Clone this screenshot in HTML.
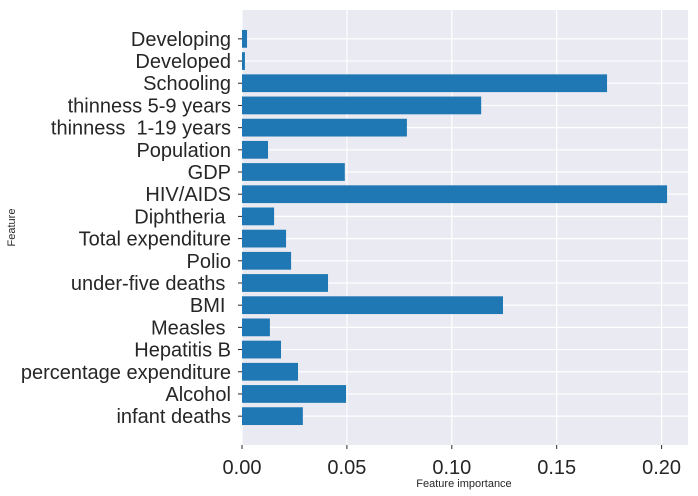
<!DOCTYPE html>
<html><head><meta charset="utf-8"><style>
body{margin:0;background:#fff;}
svg{display:block;font-family:"Liberation Sans",Arial,sans-serif;}
</style></head><body>
<svg id="chart" width="698" height="496"></svg>
<script>
const categories=["infant deaths","Alcohol","percentage expenditure","Hepatitis B","Measles ","BMI ","under-five deaths ","Polio","Total expenditure","Diphtheria ","HIV/AIDS","GDP","Population","thinness  1-19 years","thinness 5-9 years","Schooling","Developed","Developing"];
const importances=[0.029,0.0496,0.0267,0.0186,0.0133,0.1244,0.041,0.0234,0.021,0.0153,0.2026,0.049,0.0124,0.0786,0.114,0.174,0.0014,0.0024];
const xTicks=[0,0.05,0.1,0.15,0.2];
const xTickLabels=["0.00","0.05","0.10","0.15","0.20"];

const NS="http://www.w3.org/2000/svg";
const svg=document.getElementById('chart');
const L=242,R=688,T=10,B=445;
const x=v=>L+v*2098;
const n=categories.length;
const step=(B-T)/(n-1+1.3*2);
const y=i=>B-step*1.3-i*step;
function mk(tag,attrs,parent){const e=document.createElementNS(NS,tag);for(const k in attrs)e.setAttribute(k,attrs[k]);(parent||svg).appendChild(e);return e;}
const bg=mk('rect',{x:L,y:T,width:R-L,height:B-T,fill:'#eaeaf2'});


xTicks.forEach((t,i)=>{
  const g=mk('line',{x1:x(t),x2:x(t),y1:T,y2:B,stroke:'#fff','stroke-width':1.2});
  
  
  const tk=mk('line',{x1:x(t),x2:x(t),y1:B,y2:B+4,stroke:'#262626','stroke-width':1});
  
  
  const tl=mk('text',{x:x(t),y:B+29,'text-anchor':'middle','font-size':20,fill:'#262626'});
  tl.textContent=xTickLabels[i];
  
  
});
categories.forEach((c,i)=>{
  const cy=y(i);
  const g=mk('line',{x1:L,x2:R,y1:cy,y2:cy,stroke:'#fff','stroke-width':1.2});
  
  
});
categories.forEach((c,i)=>{
  const cy=y(i);
  const h=step*0.8;
  const b=mk('rect',{x:L,y:cy-h/2,width:x(importances[i])-L,height:h,fill:'#1f77b4'});
  
  
  const tk=mk('line',{x1:L-4,x2:L,y1:cy,y2:cy,stroke:'#262626','stroke-width':1});
  
  
  const tl=mk('text',{x:L-11,y:cy+7,'text-anchor':'end','font-size':20,fill:'#262626'});
  tl.setAttribute('xml:space','preserve');
  tl.style.whiteSpace='pre';
  tl.textContent=c;
  
  
});
const xl=mk('text',{x:(L+R)/2-1,y:487,'text-anchor':'middle','font-size':11,fill:'#262626'});
xl.textContent='Feature importance';


const yl=mk('text',{x:15,y:(T+B)/2,'text-anchor':'middle','font-size':11,fill:'#262626',transform:'rotate(-90 15 '+((T+B)/2)+')'});
yl.textContent='Feature';


</script>
</body></html>
